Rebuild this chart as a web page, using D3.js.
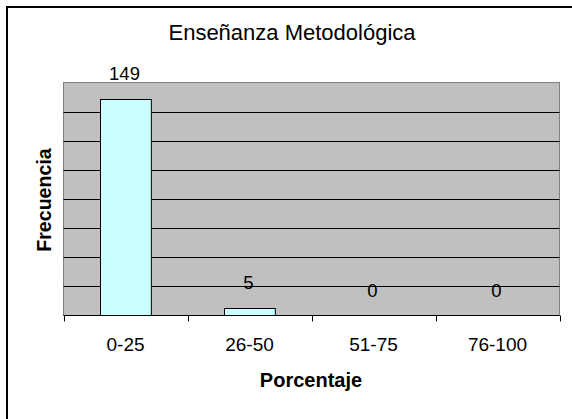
<!DOCTYPE html>
<html><head><meta charset="utf-8">
<script src="https://cdn.jsdelivr.net/npm/d3@7"></script>
<style>body{margin:0;background:#fff}svg{display:block}text{font-family:"Liberation Sans",Arial,sans-serif}</style>
</head><body>
<script>
const categories = ["0-25","26-50","51-75","76-100"];
const values = [149,5,0,0];
const yTicks = [0,20,40,60,80,100,120,140,160];
const title = "Enseñanza Metodológica";
const xTitle = "Porcentaje";
const yTitle = "Frecuencia";

const W = 572, H = 419;
const svg = d3.select("body").append("svg").attr("width", W).attr("height", H);
svg.append("rect").attr("width", W).attr("height", H).attr("fill", "#fff");
// outer frame (only top and left visible)
svg.append("rect").attr("x", 7).attr("y", 7).attr("width", 700).attr("height", 700)
  .attr("fill", "none").attr("stroke", "#000").attr("stroke-width", 2);

const L = 63.5, R = 559.5, T = 82.5, B = 315.5;
const x = d3.scaleBand().domain(categories).range([L, R]).paddingInner(0.59).paddingOuter(0.295);
const xc = d3.scaleBand().domain(categories).range([L, R]);
const y = d3.scaleLinear().domain([0,160]).range([B, T]);

svg.append("rect").attr("x", L).attr("y", T).attr("width", R-L).attr("height", B-T)
  .attr("fill", "#C0C0C0").attr("stroke", "#808080").attr("stroke-width", 1);

svg.append("g").selectAll("line").data(yTicks.filter(d => d>0 && d<160)).join("line")
  .attr("x1", L).attr("x2", R).attr("y1", d => Math.round(y(d))+0.5).attr("y2", d => Math.round(y(d))+0.5)
  .attr("stroke", "#000").attr("stroke-width", 1);

svg.append("g").selectAll("rect").data(values).join("rect")
  .attr("x", (d,i) => Math.round(x(categories[i]))+0.5)
  .attr("y", d => Math.round(y(d))+0.5)
  .attr("width", x.bandwidth())
  .attr("height", d => B - Math.round(y(d)) - 0.5)
  .attr("fill", "#CCFFFF").attr("stroke", "#000").attr("stroke-width", 1);

// x axis
const xAxis = d3.axisBottom(xc).tickSize(0).tickPadding(0);
const gx = svg.append("g").attr("transform", `translate(0,${B})`);
gx.append("line").attr("x1", L).attr("x2", R).attr("stroke", "#000");
gx.selectAll("line.tk").data(d3.range(categories.length+1)).join("line").attr("class","tk")
  .attr("x1", i => Math.round(L + i*xc.step())+0.5).attr("x2", i => Math.round(L + i*xc.step())+0.5)
  .attr("y1", 0).attr("y2", 6).attr("stroke", "#000");
gx.selectAll("text").data(categories).join("text")
  .attr("x", d => xc(d) + xc.bandwidth()/2).attr("y", 35.5)
  .attr("text-anchor", "middle").attr("font-size", 19).attr("fill", "#000").text(d => d);

// data labels
svg.append("g").selectAll("text").data(values).join("text")
  .attr("x", (d,i) => xc(categories[i]) + xc.bandwidth()/2 - 1)
  .attr("y", d => y(d) - 19)
  .attr("text-anchor", "middle").attr("font-size", 18.5).attr("fill", "#000").text(d => d);

svg.append("text").attr("x", 292).attr("y", 40).attr("text-anchor", "middle")
  .attr("font-size", 22).attr("fill", "#000").text(title);
svg.append("text").attr("x", 311).attr("y", 387).attr("text-anchor", "middle")
  .attr("font-size", 20).attr("font-weight", "bold").attr("fill", "#000").text(xTitle);
svg.append("text").attr("transform", "translate(51,200) rotate(-90)").attr("text-anchor", "middle")
  .attr("font-size", 19.6).attr("font-weight", "bold").attr("fill", "#000").text(yTitle);
</script>
</body></html>
